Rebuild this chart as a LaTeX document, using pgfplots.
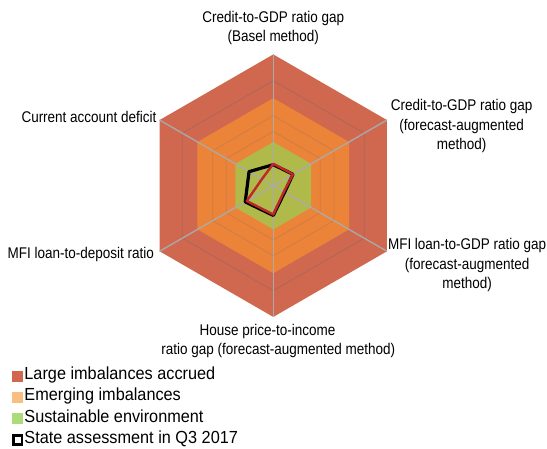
\documentclass[border=0pt]{standalone}
\usepackage{fontspec}
\setmainfont{Liberation Sans}[FakeStretch=0.87]
\newfontfamily\legfont{Liberation Sans}[FakeStretch=0.93]
\usepackage{pgfplots}
\pgfplotsset{compat=1.18}

\definecolor{large}{RGB}{208,104,80}
\definecolor{emerg}{RGB}{235,131,57}
\definecolor{sustain}{RGB}{176,186,74}
\definecolor{emergleg}{RGB}{250,190,130}
\definecolor{sustainleg}{RGB}{172,220,122}
\definecolor{prevred}{RGB}{190,40,40}
\definecolor{spoke}{RGB}{170,170,170}

\begin{document}
\begin{tikzpicture}
\begin{axis}[
    name=ax,
    scale only axis,
    width=547pt, height=448pt,
    xmin=-3.123, xmax=3.128,
    ymin=-2.998, ymax=2.122,
    hide axis,
    clip=false,
    legend cell align=left,
    legend style={at={(0.022,0.187)}, anchor=north west, draw=none, fill=none,
        inner sep=0pt, row sep=0pt,
        font=\legfont\fontsize{17.5}{20}\selectfont,
        nodes={inner sep=1pt, text height=14pt, text depth=5.3pt},
        /tikz/every even column/.append style={column sep=2pt}},
]
% bands
\addplot[fill=large, draw=none, data cs=polar, forget plot] coordinates {
    (90,1.5) (30,1.5) (-30,1.5) (-90,1.5) (-150,1.5) (150,1.5)} -- cycle;
\addplot[draw=black!60, opacity=0.35, line width=0.8pt, data cs=polar, forget plot] coordinates {
    (90,1.2) (30,1.2) (-30,1.2) (-90,1.2) (-150,1.2) (150,1.2)} -- cycle;
\addplot[fill=emerg, draw=none, data cs=polar, forget plot] coordinates {
    (90,1.0) (30,1.0) (-30,1.0) (-90,1.0) (-150,1.0) (150,1.0)} -- cycle;
\addplot[draw=black!60, opacity=0.2, line width=0.8pt, data cs=polar, forget plot] coordinates {
    (90,0.8) (30,0.8) (-30,0.8) (-90,0.8) (-150,0.8) (150,0.8)} -- cycle;
\addplot[draw=black!60, opacity=0.2, line width=0.8pt, data cs=polar, forget plot] coordinates {
    (90,0.62) (30,0.62) (-30,0.62) (-90,0.62) (-150,0.62) (150,0.62)} -- cycle;
\addplot[fill=sustain, draw=none, data cs=polar, forget plot] coordinates {
    (90,0.5) (30,0.5) (-30,0.5) (-90,0.5) (-150,0.5) (150,0.5)} -- cycle;
% spokes
\addplot[spoke, line width=1.3pt, data cs=polar, forget plot] coordinates {(90,1.5) (270,1.5)};
\addplot[spoke, line width=1.3pt, data cs=polar, forget plot] coordinates {(30,1.5) (210,1.5)};
\addplot[spoke, line width=1.3pt, data cs=polar, forget plot] coordinates {(150,1.5) (330,1.5)};
% state assessment Q3 2017
\addplot[black, line width=3.2pt, line join=round, data cs=polar, forget plot] coordinates {
    (90,0.24) (30,0.26) (-30,0.15) (-90,0.34) (-150,0.37) (150,0.32)} -- cycle;
% previous assessment
\addplot[prevred, line width=2.4pt, line join=round, data cs=polar, forget plot] coordinates {
    (90,0.25) (30,0.26) (-30,0.14) (-90,0.33) (-150,0.35) (150,0.15)} -- cycle;

\addlegendimage{legend image code/.code={\fill[large] (0pt,-6pt) rectangle (10pt,4pt);}}
\addlegendentry{Large imbalances accrued}
\addlegendimage{legend image code/.code={\fill[emergleg] (0pt,-6pt) rectangle (10pt,4pt);}}
\addlegendentry{Emerging imbalances}
\addlegendimage{legend image code/.code={\fill[sustainleg] (0pt,-6pt) rectangle (10pt,4pt);}}
\addlegendentry{Sustainable environment}
\addlegendimage{legend image code/.code={\draw[black, line width=2.6pt, fill=white] (1.3pt,-5.7pt) rectangle (9.7pt,3.7pt);}}
\addlegendentry{State assessment in Q3 2017}

% axis labels
\begin{scope}[every node/.style={font=\fontsize{15.5}{19.5}\selectfont, align=center, inner sep=0pt}]
\node at (axis cs:0,1.802) {Credit-to-GDP ratio gap\\(Basel method)};
\node at (axis cs:2.153,0.682) {Credit-to-GDP ratio gap\\(forecast-augmented\\method)};
\node at (axis cs:2.215,-0.912) {MFI loan-to-GDP ratio gap\\(forecast-augmented\\method)};
\node at (axis cs:-0.066,-1.672) {House price-to-income};
\node at (axis cs:0.057,-1.889) {ratio gap (forecast-augmented method)};
\node[anchor=east] at (axis cs:-1.333,0.789) {Current account deficit};
\node[anchor=east] at (axis cs:-1.363,-0.792) {MFI loan-to-deposit ratio};
\end{scope}
\end{axis}
\pgfresetboundingbox
\useasboundingbox (ax.south west) rectangle (ax.north east);
\end{tikzpicture}
\end{document}
